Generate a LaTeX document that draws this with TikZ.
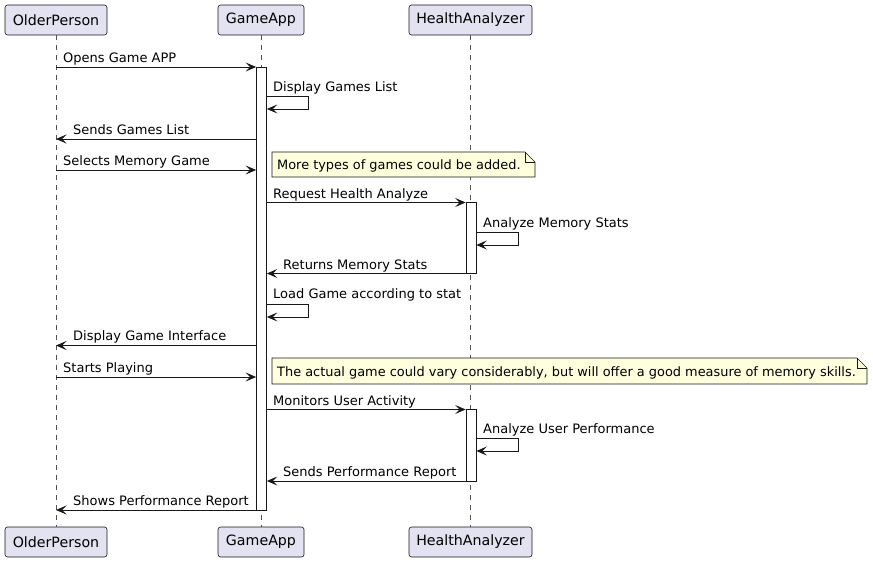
\documentclass[tikz,border=0pt]{standalone}
\usepackage{fontspec}
\setmainfont{DejaVu Sans}
\usetikzlibrary{arrows.meta}
\definecolor{partfill}{HTML}{E2E2F0}
\definecolor{linec}{HTML}{181818}
\definecolor{notefill}{HTML}{FEFFDD}
\begin{document}
\begin{tikzpicture}[x=1pt,y=-1pt,
 part/.style={draw=linec, fill=partfill, rounded corners=2.5pt, minimum height=30pt, inner sep=0pt, font=\fontsize{14.2}{16}\selectfont, line width=0.6pt},
 life/.style={draw=linec!75, dash pattern=on 5pt off 5pt, line width=0.5pt},
 actbar/.style={draw=linec, fill=white, minimum width=10pt, inner sep=0pt, line width=0.8pt},
 msg/.style={draw=linec, line width=0.8pt, -{Stealth[length=10.5pt,width=9pt,inset=4.5pt]}},
 lbl/.style={anchor=base west, inner sep=0pt, font=\fontsize{13}{15}\selectfont},
 notelbl/.style={anchor=base west, inner sep=0pt, font=\fontsize{12.9}{15}\selectfont},
 notebox/.style={draw=linec, fill=notefill, line width=0.6pt},
]
\useasboundingbox (0,0) rectangle (873,562);
% participants
\node[part, minimum width=102pt] (op) at (56,20) {OlderPerson};
\node[part, minimum width=86pt] (ga) at (261,20) {GameApp};
\node[part, minimum width=123pt] (ha) at (470.5,20) {HealthAnalyzer};
\node[part, minimum width=102pt] (opb) at (56,542) {OlderPerson};
\node[part, minimum width=86pt] (gab) at (261,542) {GameApp};
\node[part, minimum width=123pt] (hab) at (470.5,542) {HealthAnalyzer};
% lifelines
\draw[life] (op |- 0,35) -- (opb |- 0,527);
\draw[life] (ga |- 0,35) -- (gab |- 0,527);
\draw[life] (470,35) -- (470,527);
% activation bars
\node[actbar, minimum height=443pt] (act1) at (261.5,288.5) {};
\node[actbar, minimum height=71pt] (act2) at (471,237.5) {};
\node[actbar, minimum height=72pt] (act3) at (471,445) {};
% messages
\draw[msg] (op |- 0,67) -- (act1.west |- 0,67);
\node[lbl] (m1) at (63,62.5) {Opens Game APP};
\draw[msg] (act1.east |- 0,96.5) -- (308,96.5) -- (308,109) -- (act1.east |- 0,109);
\node[lbl] (m2) at (273,91.5) {Display Games List};
\draw[msg] (act1.west |- 0,139) -- (op |- 0,139);
\node[lbl] (m3) at (73,134.5) {Sends Games List};
\draw[msg] (op |- 0,170) -- (act1.west |- 0,170);
\node[lbl] (m4) at (63,165.5) {Selects Memory Game};
% note 1
\draw[notebox] (272,152) -- (525,152) -- (535,162) -- (535,177) -- (272,177) -- cycle;
\draw[linec, line width=0.6pt] (525,152) -- (525,162) -- (535,162);
\node[notelbl] (n1) at (277,169) {More types of games could be added.};
\draw[msg] (act1.east |- 0,202.5) -- (act2.west |- 0,202.5);
\node[lbl] (m5) at (273,198) {Request Health Analyze};
\draw[msg] (act2.east |- 0,232) -- (518,232) -- (518,245) -- (act2.east |- 0,245);
\node[lbl] (m6) at (483,227) {Analyze Memory Stats};
\draw[msg] (act2.west |- 0,273.5) -- (act1.east |- 0,273.5);
\node[lbl] (m7) at (283,269) {Returns Memory Stats};
\draw[msg] (act1.east |- 0,304) -- (308,304) -- (308,317) -- (act1.east |- 0,317);
\node[lbl] (m8) at (273,298.5) {Load Game according to stat};
\draw[msg] (act1.west |- 0,345.5) -- (op |- 0,345.5);
\node[lbl] (m9) at (73,340) {Display Game Interface};
\draw[msg] (op |- 0,377) -- (act1.west |- 0,377);
\node[lbl] (m10) at (63,372.5) {Starts Playing};
% note 2
\draw[notebox] (272,358) -- (857,358) -- (867,368) -- (867,384) -- (272,384) -- cycle;
\draw[linec, line width=0.6pt] (857,358) -- (857,368) -- (867,368);
\node[notelbl] (n2) at (277,376) {The actual game could vary considerably, but will offer a good measure of memory skills.};
\draw[msg] (act1.east |- 0,409.5) -- (act3.west |- 0,409.5);
\node[lbl] (m11) at (273,405) {Monitors User Activity};
\draw[msg] (act3.east |- 0,438.5) -- (518,438.5) -- (518,451) -- (act3.east |- 0,451);
\node[lbl] (m12) at (483,433.5) {Analyze User Performance};
\draw[msg] (act3.west |- 0,481) -- (act1.east |- 0,481);
\node[lbl] (m13) at (283,476) {Sends Performance Report};
\draw[msg] (act1.west |- 0,510) -- (op |- 0,510);
\node[lbl] (m14) at (73,505) {Shows Performance Report};
\end{tikzpicture}
\end{document}
